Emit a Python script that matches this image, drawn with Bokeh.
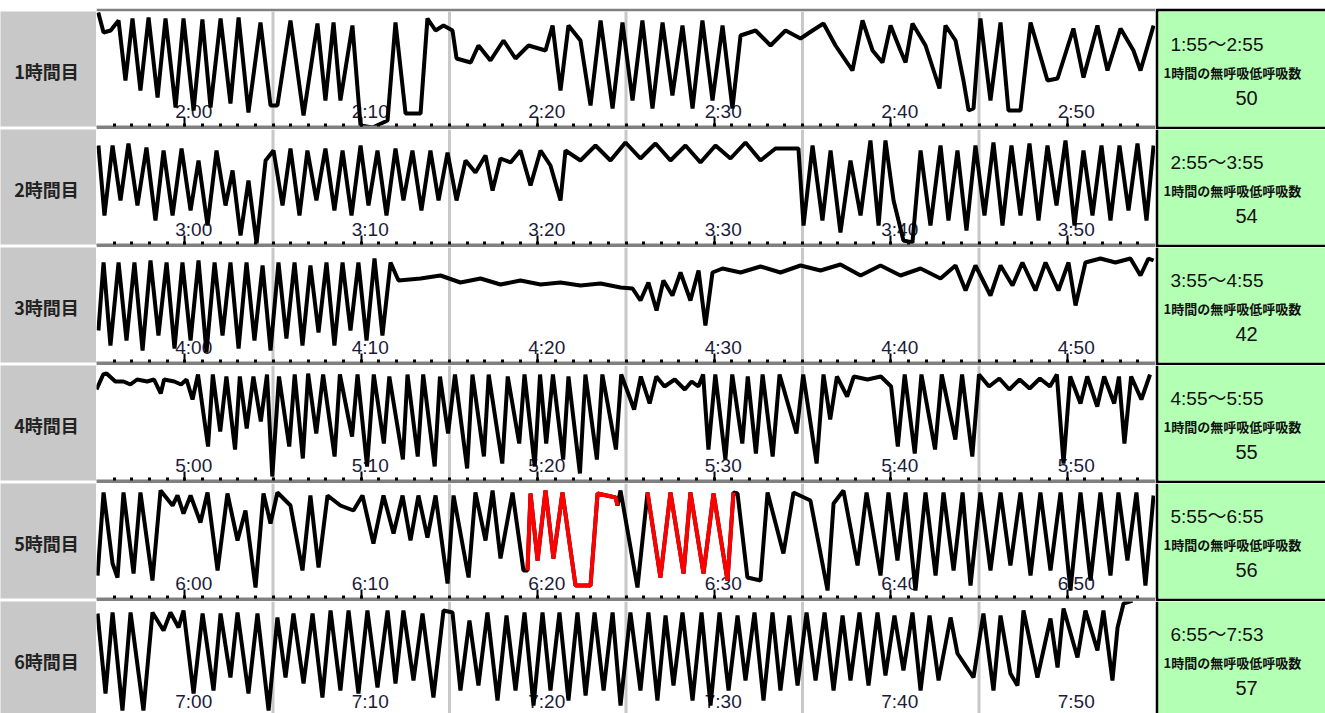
from bokeh.plotting import figure
from bokeh.layouts import column, row
from bokeh.models import Range1d, FixedTicker, LinearAxis, Label, Span, Spacer
from bokeh.embed import file_html
from bokeh.resources import INLINE
from bokeh.core.properties import value

# ---------------- data ----------------
row_titles = ["1時間目", "2時間目", "3時間目", "4時間目", "5時間目", "6時間目"]
hour_spans = ["1:55～2:55", "2:55～3:55", "3:55～4:55", "4:55～5:55", "5:55～6:55", "6:55～7:53"]
ahi_counts = [50, 54, 42, 55, 56, 57]
count_caption = "1時間の無呼吸低呼吸数"

# minutes after the start of each hour window
tick_minutes = [5, 15, 25, 35, 45, 55]
minor_minutes = list(range(1, 60))
grid_minutes = [10, 20, 30, 40, 50]
tick_labels = [
    ["2:00", "2:10", "2:20", "2:30", "2:40", "2:50"],
    ["3:00", "3:10", "3:20", "3:30", "3:40", "3:50"],
    ["4:00", "4:10", "4:20", "4:30", "4:40", "4:50"],
    ["5:00", "5:10", "5:20", "5:30", "5:40", "5:50"],
    ["6:00", "6:10", "6:20", "6:30", "6:40", "6:50"],
    ["7:00", "7:10", "7:20", "7:30", "7:40", "7:50"],
]

r1_t = [0.1,0.4,0.8,1.25,1.64,2.04,2.49,2.95,3.46,3.91,4.48,4.93,5.5,6.0,6.46,7.03,7.59,8.05,8.61,9.29,
        9.86,10.25,10.99,11.73,12.52,12.97,13.43,13.82,14.5,14.96,15.64,16.49,16.94,17.51,18.36,18.75,19.21,19.66,20.17,20.4,
        21.2,21.64,22.32,23.06,23.74,24.48,25.44,25.84,26.29,26.74,27.42,27.99,28.56,29.24,29.8,30.37,30.93,31.5,32.07,32.63,
        33.2,33.77,34.33,34.9,35.47,36.03,36.49,37.34,38.19,39.04,39.89,40.57,41.19,41.87,42.83,43.4,43.97,44.53,44.99,45.55,
        45.84,46.23,46.97,47.76,48.1,48.67,49.12,49.41,49.69,50.08,50.65,51.22,51.67,52.35,52.92,53.88,54.45,55.35,55.92,56.71,
        57.28,58.02,58.75,59.15,59.89]
r1_v = [114,94,96,106,46,108,36,109,29,108,19,108,16,107,19,108,23,109,14,104,
        21,21,106,11,103,26,104,26,101,1,-1,6,104,13,13,108,96,101,96,68,
        64,81,66,86,68,81,76,101,36,101,86,21,106,18,104,26,106,18,104,31,
        101,18,106,26,101,18,91,96,81,96,88,96,103,81,56,106,76,64,101,76,
        64,103,81,38,101,86,46,16,18,108,26,104,16,16,104,46,48,98,49,101,
        56,98,76,56,101]

r2_t = [0.11,0.45,0.91,1.36,1.81,2.32,2.83,3.34,3.8,4.31,4.82,5.33,5.78,6.29,6.8,7.31,7.71,8.16,8.61,9.07,
        9.58,10.03,10.54,10.99,11.5,11.95,12.46,12.97,13.48,13.94,14.45,14.96,15.41,15.92,16.43,16.94,17.39,17.9,18.41,18.92,
        19.38,19.89,20.4,20.91,21.47,22.04,22.44,22.89,23.46,24.02,24.59,25.16,25.72,26.29,26.57,27.42,28.27,29.12,29.97,30.82,
        31.67,32.52,33.37,34.22,35.07,35.92,36.77,37.62,38.47,39.77,40.06,40.57,41.13,41.59,42.15,42.72,43.29,43.85,44.31,44.7,
        45.16,45.72,46.23,46.69,47.25,47.82,48.27,48.78,49.29,49.8,50.31,50.82,51.33,51.84,52.35,52.86,53.37,53.88,54.39,54.9,
        55.41,55.92,56.43,56.94,57.45,57.96,58.47,58.98,59.49,59.89]
r2_v = [99,29,99,44,101,39,97,24,94,29,96,34,84,19,94,39,74,9,64,1,
        84,94,39,96,29,94,44,96,34,94,29,99,39,94,29,96,44,94,34,94,
        44,92,44,84,72,89,54,86,82,94,59,94,79,44,94,84,99,84,102,86,
        101,84,99,82,99,86,102,84,96,96,19,99,24,94,12,84,29,104,19,104,
        44,4,2,94,19,99,24,94,14,99,29,102,19,99,29,101,24,99,39,104,
        19,94,29,99,24,99,34,101,24,99]

r3_t = [0.11,0.4,0.79,1.25,1.7,2.15,2.61,3.06,3.51,3.97,4.42,4.87,5.33,5.78,6.23,6.69,7.14,7.59,8.05,8.5,
        8.95,9.41,9.86,10.31,10.76,11.22,11.67,12.12,12.58,13.03,13.48,13.94,14.39,14.84,15.3,15.75,16.2,16.66,17.11,18.36,
        19.49,20.62,21.76,22.89,24.02,25.16,26.29,27.42,28.56,29.69,30.37,30.82,31.27,31.73,32.12,32.63,33.09,33.65,34.11,34.5,
        34.9,35.47,36.49,37.62,38.75,39.89,41.02,42.15,43.29,44.42,45.55,46.69,47.82,48.67,49.24,49.8,50.65,51.22,51.9,52.46,
        53.2,53.77,54.5,55.07,55.47,56.03,56.88,57.73,58.58,59.15,59.6,59.89]
r3_v = [32,100,17,100,22,100,12,102,27,100,14,100,22,102,10,100,27,100,14,100,
        22,97,12,100,24,100,17,97,30,100,17,100,32,100,22,104,27,100,82,84,
        87,80,84,78,82,78,80,77,79,75,74,62,80,52,82,67,90,62,92,37,
        90,94,90,96,90,97,92,98,87,97,87,94,84,97,72,97,67,97,77,100,
        72,100,72,100,57,100,104,100,104,87,104,102]

r4_t = [0.0,0.38,0.57,1.07,1.53,1.92,2.3,2.87,3.26,3.64,3.83,4.41,4.79,5.1,5.44,5.75,6.32,6.59,7.01,7.36,
        7.85,8.12,8.51,8.89,9.31,9.66,9.96,10.34,10.92,11.23,11.69,11.99,12.45,12.84,13.49,13.79,14.48,14.79,15.33,15.71,
        16.28,16.59,17.36,17.62,18.2,18.51,19.16,19.46,19.92,20.31,21.0,21.3,21.95,22.22,22.99,23.3,23.95,24.25,24.83,25.13,
        25.48,25.86,26.44,26.74,27.39,27.7,28.35,28.66,29.43,29.73,30.46,30.84,31.34,31.72,32.18,32.76,33.33,33.72,34.1,34.37,
        34.67,35.06,35.63,36.02,36.59,36.9,37.36,37.74,38.31,38.7,39.66,40.04,40.8,41.19,41.57,41.95,42.53,42.91,43.68,44.44,
        45.02,45.4,45.79,46.36,46.74,47.51,47.89,48.66,49.04,49.62,50.0,50.57,51.15,51.72,52.3,52.87,53.45,54.02,54.41,54.79,
        55.17,55.75,56.13,56.7,57.09,57.66,57.93,58.24,58.62,59.2,59.69]
r4_v = [91,106,107,99,99,96,101,99,101,87,101,99,96,101,81,106,34,106,49,104,
        31,104,52,104,59,106,4,104,34,106,22,107,47,106,24,106,44,106,14,106,
        37,104,21,106,24,106,14,104,47,106,12,106,24,106,17,104,37,106,14,106,
        37,106,21,104,7,106,21,106,31,106,71,104,77,104,94,101,91,99,94,106,
        31,106,21,106,37,104,27,106,24,106,47,106,17,106,61,104,84,104,101,104,
        94,34,106,27,106,31,106,41,106,24,106,94,102,91,101,92,102,94,106,17,
        104,77,104,74,104,77,104,37,104,81,106]

r5_t = [0.06,0.4,0.91,1.19,1.53,2.1,2.49,3.17,3.63,4.31,4.59,4.93,5.33,5.89,6.29,6.86,7.42,7.99,8.44,9.01,
        9.46,9.86,10.25,10.99,11.67,12.12,12.58,13.09,13.82,14.56,15.07,15.69,16.26,16.83,17.34,17.79,18.24,18.75,19.21,19.89,
        20.23,21.08,21.47,22.04,22.44,22.89,23.57,24.19,24.42,24.59,24.99,25.44,25.89,26.4,27.14,27.99,28.39,29.41,29.52,29.69,
        30.65,31.22,31.95,32.52,33.26,33.65,34.39,34.96,35.75,36.09,36.32,36.88,37.62,38.02,38.92,39.49,40.45,41.42,41.76,42.32,
        43.12,43.63,44.42,44.87,45.38,45.84,46.4,46.97,47.54,47.99,48.56,49.07,49.52,50.08,50.65,51.22,51.78,52.35,52.92,53.48,
        54.05,54.62,55.18,55.75,56.32,56.88,57.45,57.9,58.41,58.92,59.43,59.89]
r5_v = [23,106,35,21,106,25,106,18,108,93,103,85,103,76,106,28,105,58,88,11,
        105,75,106,93,28,103,31,103,93,88,103,55,103,65,103,58,103,61,103,15,
        103,21,106,58,108,40,106,28,28,105,38,108,40,106,13,13,105,101,93,108,
        11,106,21,106,25,106,25,105,18,106,105,21,18,106,45,106,98,8,95,108,
        33,106,23,106,38,106,8,106,23,106,28,106,13,106,28,106,33,106,23,106,
        28,106,8,106,18,106,23,106,38,106,13,103]
r5_red_spans = [(24.42, 29.52), (31.22, 36.09)]

r6_t = [0.06,0.51,0.91,1.47,1.93,2.66,3.17,3.8,4.19,4.65,4.93,5.5,6.01,6.63,7.03,7.59,7.99,8.61,9.12,9.75,
        10.25,10.71,11.16,11.73,12.24,12.8,13.26,13.82,14.28,14.84,15.35,15.92,16.49,16.94,17.39,17.96,18.47,19.09,19.66,20.17,
        20.62,21.13,21.64,22.15,22.72,23.23,23.74,24.25,24.76,25.27,25.72,26.23,26.74,27.25,27.71,28.22,28.73,29.24,29.69,30.25,
        30.82,31.27,31.78,32.24,32.69,33.2,33.77,34.28,34.79,35.3,35.81,36.32,36.77,37.28,37.79,38.3,38.75,39.26,39.72,40.23,
        40.74,41.25,41.76,42.27,42.72,43.23,43.74,44.25,44.7,45.21,45.72,46.23,46.69,47.2,47.71,48.39,48.78,49.69,50.25,50.82,
        51.22,51.78,52.18,52.52,53.31,54.05,54.45,54.79,55.58,56.03,56.71,57.05,57.56,57.85,58.19,58.7]
r6_v = [103,23,104,6,104,6,104,86,104,89,106,23,103,26,103,39,104,23,103,6,
        99,39,103,33,103,19,106,26,106,23,106,29,106,33,106,36,103,19,106,104,
        26,96,31,104,16,101,26,104,11,104,26,104,16,104,21,104,26,104,11,104,
        26,104,16,101,31,104,16,104,11,104,26,101,36,104,16,104,26,101,31,104,
        36,104,26,101,36,104,31,104,41,101,46,104,26,101,36,99,63,39,103,26,
        101,43,31,106,39,98,49,108,59,106,66,106,36,89,113,116]

series_t = [r1_t, r2_t, r3_t, r4_t, r5_t, r6_t]
series_v = [r1_v, r2_v, r3_v, r4_v, r5_v, r6_v]

# ---------------- layout ----------------
W_LAB, W_CH, W_INF = 96, 1059, 170
TOP_GAP = 8
ROW_H = [121, 118, 118, 118, 118, 112]
V_TOP = 115
LABEL_LEVEL = 15.5

GRAY_CELL = "#c8c8c8"
AXIS_GRAY = "#808080"
GRID_GRAY = "#c8c8c8"
GREEN = "#b3ffb3"

JP_FONT = "Noto Sans CJK JP"
NUM_FONT = "Liberation Sans, Noto Sans CJK JP"

def base_fig(w, h, xr, yr, top, bot, left=0, bg="white", border="white"):
    return figure(width=w, height=h, x_range=xr, y_range=yr,
                  x_axis_type=None, y_axis_type=None, toolbar_location=None,
                  output_backend="svg", min_border_left=left, min_border_right=0,
                  min_border_top=top, min_border_bottom=bot,
                  background_fill_color=bg, border_fill_color=border,
                  outline_line_color=None)

rows = [Spacer(width=W_LAB + W_CH + W_INF, height=TOP_GAP)]
for i in range(6):
    first, last = i == 0, i == 5
    h = ROW_H[i]
    top = 3 if first else 0
    bot = 0 if last else 3
    frame_h = h - top - bot
    ymin = V_TOP - frame_h

    # label cell
    lf = base_fig(W_LAB, h, Range1d(0, W_LAB), Range1d(0, frame_h), top, bot,
                  bg=GRAY_CELL, border="white")
    lf.add_layout(Label(x=46, y=frame_h - 59, text=row_titles[i], text_align="center",
                        text_baseline="middle", text_font=JP_FONT, text_font_size="18px",
                        text_font_style="bold", text_color="#222222"))

    # waveform chart
    p = base_fig(W_CH, h, Range1d(0, 60), Range1d(ymin, V_TOP), top, bot,
                 bg="white", border=AXIS_GRAY)
    for gm in grid_minutes:
        p.add_layout(Span(location=gm, dimension="height", line_color=GRID_GRAY,
                          line_width=3, level="underlay"))
    if not last:
        ax = LinearAxis(ticker=FixedTicker(ticks=tick_minutes, minor_ticks=minor_minutes),
                        major_label_text_font_size="0px", major_label_standoff=0,
                        major_label_overrides={m: "" for m in tick_minutes},
                        major_tick_in=9, major_tick_out=0, minor_tick_in=3, minor_tick_out=0,
                        axis_line_color=AXIS_GRAY, axis_line_width=2,
                        major_tick_line_color="black", major_tick_line_width=2,
                        minor_tick_line_color="black", minor_tick_line_width=3)
        p.add_layout(ax, "below")
    p.text(x=tick_minutes, y=[LABEL_LEVEL] * len(tick_minutes), text=tick_labels[i],
           text_font=value("Liberation Sans"), text_font_size="19px", text_color="#1b1b3a",
           text_align="center", text_baseline="middle", x_offset=9)
    t, v = series_t[i], series_v[i]
    n = min(len(t), len(v))
    t, v = t[:n], v[:n]
    p.line(t, v, line_color="black", line_width=4)
    if i == 4:
        for a, b in r5_red_spans:
            idx = [k for k in range(n) if a - 1e-9 <= t[k] <= b + 1e-9]
            p.line([t[k] for k in idx], [v[k] for k in idx], line_color="red", line_width=4)

    # info cell
    inf_w = W_INF - 3
    f = base_fig(W_INF, h, Range1d(0, inf_w), Range1d(0, frame_h), top, bot, left=3,
                 bg=GREEN, border="black")
    f.add_layout(Label(x=12, y=frame_h - 33, text=hour_spans[i], text_align="left",
                       text_baseline="middle", text_font=NUM_FONT, text_font_size="19px",
                       text_color="#111111"))
    f.add_layout(Label(x=5, y=frame_h - 61, text=count_caption, text_align="left",
                       text_baseline="middle", text_font=JP_FONT, text_font_size="13px",
                       text_font_style="bold", text_color="#111111"))
    f.add_layout(Label(x=88, y=frame_h - 86, text=str(ahi_counts[i]), text_align="center",
                       text_baseline="middle", text_font=NUM_FONT, text_font_size="20px",
                       text_color="#111111"))

    rows.append(row(lf, p, f))

layout = column(*rows)
open("out.html", "w").write(file_html(layout, INLINE))
